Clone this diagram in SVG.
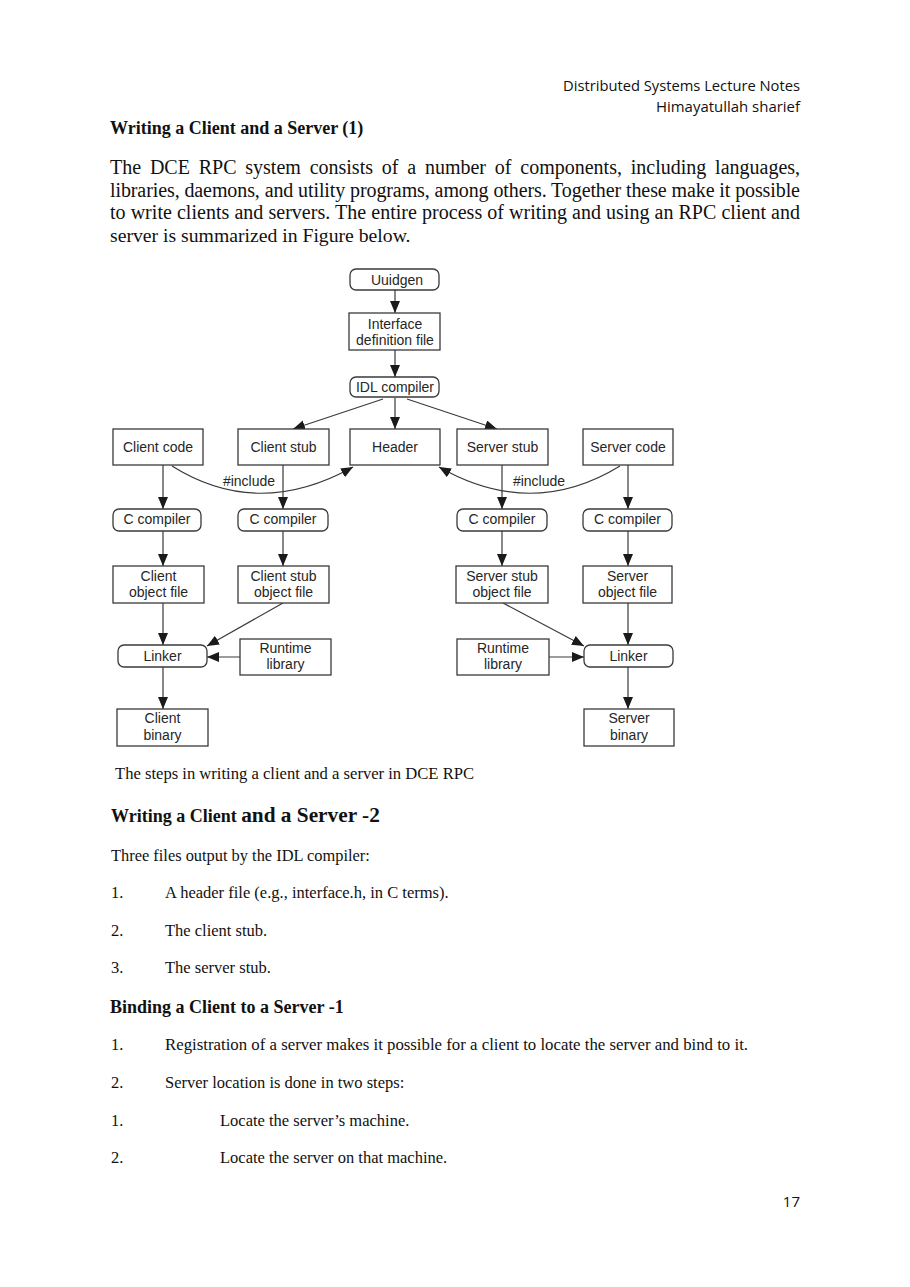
<svg xmlns="http://www.w3.org/2000/svg" width="910" height="1287" viewBox="0 0 910 1287">
<style>
  .bg { fill: #ffffff; }
  .box { fill: #ffffff; stroke: #3a3a3a; stroke-width: 1.3; }
  .lbl { font-family: "Liberation Sans", Arial, sans-serif; font-size: 14px; fill: #262626; text-anchor: middle; }
  .edge { fill: none; stroke: #3a3a3a; stroke-width: 1.2; marker-end: url(#arr); }
  .hdr { font-family: "Open Sans", "Noto Sans", sans-serif; font-size: 15px; fill: #111; text-anchor: end; }
  .body { font-family: "Liberation Serif", "Times New Roman", serif; fill: #111; }
  .bold { font-weight: bold; }
</style>
<defs>
  <marker id="arr" markerUnits="userSpaceOnUse" markerWidth="13" markerHeight="11" refX="12" refY="5" orient="auto">
    <path d="M0,0 L12,5 L0,10 Z" fill="#1a1a1a"/>
  </marker>
</defs>
<rect class="bg" x="0" y="0" width="910" height="1287"/>

<!-- page header -->
<text class="hdr" x="800" y="91" textLength="237" lengthAdjust="spacingAndGlyphs">Distributed Systems Lecture Notes</text>
<text class="hdr" x="800" y="112" textLength="144" lengthAdjust="spacingAndGlyphs">Himayatullah sharief</text>

<text class="body bold" x="110" y="134" font-size="18">Writing a Client and a Server (1)</text>

<text class="body" font-size="20" x="110" y="174" word-spacing="3.8">The DCE RPC system consists of a number of components, including languages,</text>
<text class="body" font-size="20" x="110" y="197" textLength="690" lengthAdjust="spacing">libraries, daemons, and utility programs, among others. Together these make it possible</text>
<text class="body" font-size="20" x="110" y="219" textLength="690" lengthAdjust="spacing">to write clients and servers. The entire process of writing and using an RPC client and</text>
<text class="body" font-size="19.7" x="110" y="242">server is summarized in Figure below.</text>

<!-- connectors -->
<g id="connectors">
  <line class="edge" x1="395" y1="290" x2="395" y2="313"/>
  <line class="edge" x1="395" y1="350" x2="395" y2="377"/>
  <line class="edge" x1="395" y1="398" x2="395" y2="429"/>
  <line class="edge" x1="383" y1="399" x2="293" y2="429"/>
  <line class="edge" x1="407" y1="399" x2="497" y2="429"/>

  <path class="edge" d="M172,466 Q258,520 353,467"/>
  <path class="edge" d="M620,466 Q532,520 439,467"/>

  <line class="edge" x1="163" y1="465" x2="163" y2="509"/>
  <line class="edge" x1="283" y1="465" x2="283" y2="509"/>
  <line class="edge" x1="502" y1="465" x2="502" y2="509"/>
  <line class="edge" x1="628" y1="465" x2="628" y2="509"/>

  <line class="edge" x1="163" y1="531" x2="163" y2="566"/>
  <line class="edge" x1="283" y1="531" x2="283" y2="566"/>
  <line class="edge" x1="502" y1="531" x2="502" y2="566"/>
  <line class="edge" x1="628" y1="531" x2="628" y2="566"/>

  <line class="edge" x1="163" y1="603" x2="163" y2="645"/>
  <line class="edge" x1="283" y1="603" x2="207" y2="646"/>
  <line class="edge" x1="503" y1="603" x2="584" y2="646"/>
  <line class="edge" x1="628" y1="603" x2="628" y2="645"/>

  <line class="edge" x1="240" y1="657" x2="207" y2="657"/>
  <line class="edge" x1="549" y1="657" x2="584" y2="657"/>

  <line class="edge" x1="163" y1="667" x2="163" y2="709"/>
  <line class="edge" x1="628" y1="667" x2="628" y2="709"/>

  <text class="lbl" x="249" y="486">#include</text>
  <text class="lbl" x="539" y="486">#include</text>
</g>

<!-- nodes -->
<g id="uuidgen"><rect class="box" x="350" y="269" width="89" height="21" rx="6"/><text class="lbl" x="397" y="285">Uuidgen</text></g>
<g id="idf"><rect class="box" x="349" y="313" width="91" height="37"/><text class="lbl" x="395" y="329">Interface</text><text class="lbl" x="395" y="345">definition file</text></g>
<g id="idl"><rect class="box" x="350" y="377" width="89" height="20" rx="6"/><text class="lbl" x="395" y="392">IDL compiler</text></g>

<g id="client-code"><rect class="box" x="113" y="429" width="90" height="36"/><text class="lbl" x="158" y="452">Client code</text></g>
<g id="client-stub"><rect class="box" x="238" y="429" width="91" height="36"/><text class="lbl" x="283.5" y="452">Client stub</text></g>
<g id="header"><rect class="box" x="350" y="429" width="90" height="36"/><text class="lbl" x="395" y="452">Header</text></g>
<g id="server-stub"><rect class="box" x="457" y="429" width="91" height="36"/><text class="lbl" x="502.5" y="452">Server stub</text></g>
<g id="server-code"><rect class="box" x="583" y="429" width="90" height="36"/><text class="lbl" x="628" y="452">Server code</text></g>

<g id="cc1"><rect class="box" x="113" y="509" width="88" height="22" rx="6"/><text class="lbl" x="157" y="524">C compiler</text></g>
<g id="cc2"><rect class="box" x="238" y="509" width="90" height="22" rx="6"/><text class="lbl" x="283" y="524">C compiler</text></g>
<g id="cc3"><rect class="box" x="457" y="509" width="90" height="22" rx="6"/><text class="lbl" x="502" y="524">C compiler</text></g>
<g id="cc4"><rect class="box" x="583" y="509" width="89" height="22" rx="6"/><text class="lbl" x="627.5" y="524">C compiler</text></g>

<g id="client-obj"><rect class="box" x="113" y="566" width="91" height="37"/><text class="lbl" x="158.5" y="581">Client</text><text class="lbl" x="158.5" y="597">object file</text></g>
<g id="client-stub-obj"><rect class="box" x="238" y="566" width="91" height="37"/><text class="lbl" x="283.5" y="581">Client stub</text><text class="lbl" x="283.5" y="597">object file</text></g>
<g id="server-stub-obj"><rect class="box" x="456" y="566" width="92" height="37"/><text class="lbl" x="502" y="581">Server stub</text><text class="lbl" x="502" y="597">object file</text></g>
<g id="server-obj"><rect class="box" x="583" y="566" width="89" height="37"/><text class="lbl" x="627.5" y="581">Server</text><text class="lbl" x="627.5" y="597">object file</text></g>

<g id="linker-c"><rect class="box" x="118" y="645" width="89" height="22" rx="6"/><text class="lbl" x="162.5" y="661">Linker</text></g>
<g id="runtime-c"><rect class="box" x="240" y="639" width="91" height="36"/><text class="lbl" x="285.5" y="653">Runtime</text><text class="lbl" x="285.5" y="669">library</text></g>
<g id="runtime-s"><rect class="box" x="457" y="639" width="92" height="36"/><text class="lbl" x="503" y="653">Runtime</text><text class="lbl" x="503" y="669">library</text></g>
<g id="linker-s"><rect class="box" x="584" y="645" width="89" height="22" rx="6"/><text class="lbl" x="628.5" y="661">Linker</text></g>

<g id="client-bin"><rect class="box" x="117" y="709" width="91" height="37"/><text class="lbl" x="162.5" y="723">Client</text><text class="lbl" x="162.5" y="740">binary</text></g>
<g id="server-bin"><rect class="box" x="584" y="709" width="90" height="37"/><text class="lbl" x="629" y="723">Server</text><text class="lbl" x="629" y="740">binary</text></g>

<!-- lower text -->
<text class="body" font-size="16.6" x="115" y="779">The steps in writing a client and a server in DCE RPC</text>

<text class="body bold" x="111" y="822"><tspan font-size="18">Writing a Client </tspan><tspan font-size="21.3">and a Server -2</tspan></text>

<text class="body" font-size="16.4" x="111" y="861">Three files output by the IDL compiler:</text>

<text class="body" font-size="16.5" x="111" y="898">1.</text>
<text class="body" font-size="16.5" x="165" y="898">A header file (e.g., interface.h, in C terms).</text>
<text class="body" font-size="16.5" x="111" y="936">2.</text>
<text class="body" font-size="16.5" x="165" y="936">The client stub.</text>
<text class="body" font-size="16.5" x="111" y="973">3.</text>
<text class="body" font-size="16.5" x="165" y="973">The server stub.</text>

<text class="body bold" font-size="18" x="110" y="1013">Binding a Client to a Server -1</text>

<text class="body" font-size="16.5" x="111" y="1050">1.</text>
<text class="body" font-size="16.5" x="165" y="1050" textLength="583" lengthAdjust="spacingAndGlyphs">Registration of a server makes it possible for a client to locate the server and bind to it.</text>
<text class="body" font-size="16.5" x="111" y="1088">2.</text>
<text class="body" font-size="16.5" x="165" y="1088">Server location is done in two steps:</text>
<text class="body" font-size="16.5" x="111" y="1126">1.</text>
<text class="body" font-size="16.5" x="220" y="1126">Locate the server’s machine.</text>
<text class="body" font-size="16.5" x="111" y="1163">2.</text>
<text class="body" font-size="16.5" x="220" y="1163">Locate the server on that machine.</text>

<text class="hdr" x="800" y="1207">17</text>
</svg>
